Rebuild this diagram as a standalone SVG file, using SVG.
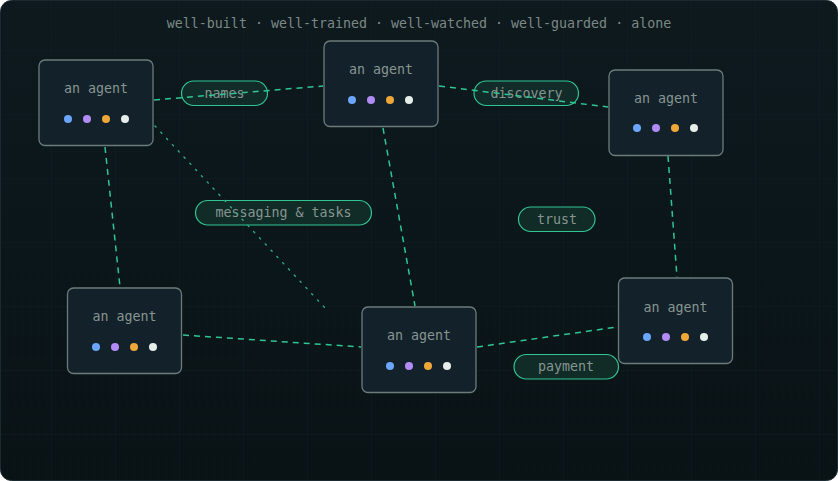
<svg xmlns="http://www.w3.org/2000/svg" width="838" height="481" viewBox="0 0 838 481">
<defs>
<linearGradient id="bg" x1="0" y1="0" x2="0" y2="1">
<stop offset="0" stop-color="#0d191d"/>
<stop offset="1" stop-color="#091316"/>
</linearGradient>
<pattern id="fine" width="8" height="8" patternUnits="userSpaceOnUse">
<path d="M8 0V8M0 8H8" fill="none" stroke="#16252a" stroke-width="0.5" opacity="0.35"/>
</pattern>
<pattern id="coarse" x="-12" y="-13" width="64" height="64" patternUnits="userSpaceOnUse">
<path d="M64 0V64M0 64H64" fill="none" stroke="#14252a" stroke-width="1" opacity="0.6"/>
</pattern>
</defs>
<style>
.node rect{fill:#13222a;stroke:#6c7c7a;stroke-width:1.3}
.t{font-family:"DejaVu Sans Mono","Liberation Mono",monospace;font-size:13.3px;fill:#879591;text-anchor:middle}
.ttl{font-family:"DejaVu Sans Mono","Liberation Mono",monospace;font-size:13.3px;fill:#7b8986;text-anchor:middle}
.c1{fill:#6aa6fb}.c2{fill:#b18cf6}.c3{fill:#f0a73a}.c4{fill:#e6eeea}
.edge{fill:none;stroke:#2fc594;stroke-width:1.5;stroke-dasharray:6 5}
.dot{fill:none;stroke:#2ba985;stroke-width:1.4;stroke-dasharray:1.5 7;stroke-linecap:round}
.pill rect{fill:#14342d;fill-opacity:0.7;stroke:#31c594;stroke-width:1.2}
</style>
<rect x="0.5" y="0.5" width="837" height="480" rx="11" fill="url(#bg)" stroke="#1b2a30"/>
<rect x="1" y="1" width="836" height="479" rx="11" fill="url(#fine)"/>
<rect x="1" y="1" width="836" height="479" rx="11" fill="url(#coarse)"/>
<text class="ttl" x="419" y="28">well-built · well-trained · well-watched · well-guarded · alone</text>
<g id="label-names" class="pill"><rect x="181.5" y="81" width="86" height="24.5" rx="12.25"/><text class="t" x="224.5" y="97.5">names</text></g>
<g id="label-discovery" class="pill"><rect x="474" y="81" width="104.5" height="24.5" rx="12.25"/><text class="t" x="526.5" y="97.5">discovery</text></g>
<g id="label-messaging" class="pill"><rect x="195.5" y="200.5" width="176" height="24.5" rx="12.25"/><text class="t" x="283.5" y="217">messaging &amp; tasks</text></g>
<g id="label-trust" class="pill"><rect x="518.5" y="207" width="76.5" height="24.5" rx="12.25"/><text class="t" x="557" y="223.5">trust</text></g>
<g id="label-payment" class="pill"><rect x="514" y="354.5" width="104.5" height="24.5" rx="12.25"/><text class="t" x="566" y="371">payment</text></g>
<g id="connectors">
<line class="edge" x1="154" y1="100" x2="323" y2="86"/>
<line class="edge" x1="439" y1="86" x2="608" y2="107"/>
<line class="edge" x1="105" y1="147" x2="120" y2="287"/>
<line class="edge" x1="383" y1="128" x2="415" y2="306"/>
<line class="edge" x1="668" y1="156" x2="677" y2="277"/>
<line class="edge" x1="183" y1="335" x2="361" y2="347"/>
<line class="edge" x1="477" y1="347" x2="617" y2="327"/>
<line class="dot" x1="155" y1="126" x2="326" y2="309"/>
</g>
<g id="agent-1" class="node"><rect x="39" y="60" width="114" height="85.5" rx="6"/><text class="t" x="96" y="93">an agent</text><circle class="c1" cx="68" cy="119" r="4"/><circle class="c2" cx="87" cy="119" r="4"/><circle class="c3" cx="106" cy="119" r="4"/><circle class="c4" cx="125" cy="119" r="4"/></g>
<g id="agent-2" class="node"><rect x="324" y="41" width="114" height="85.5" rx="6"/><text class="t" x="381" y="74">an agent</text><circle class="c1" cx="352" cy="100" r="4"/><circle class="c2" cx="371" cy="100" r="4"/><circle class="c3" cx="390" cy="100" r="4"/><circle class="c4" cx="409" cy="100" r="4"/></g>
<g id="agent-3" class="node"><rect x="609" y="70" width="114" height="85.5" rx="6"/><text class="t" x="666" y="103">an agent</text><circle class="c1" cx="637" cy="128" r="4"/><circle class="c2" cx="656" cy="128" r="4"/><circle class="c3" cx="675" cy="128" r="4"/><circle class="c4" cx="694" cy="128" r="4"/></g>
<g id="agent-4" class="node"><rect x="67.5" y="288" width="114" height="85.5" rx="6"/><text class="t" x="124.5" y="321">an agent</text><circle class="c1" cx="96" cy="347" r="4"/><circle class="c2" cx="115" cy="347" r="4"/><circle class="c3" cx="134" cy="347" r="4"/><circle class="c4" cx="153" cy="347" r="4"/></g>
<g id="agent-5" class="node"><rect x="362" y="307" width="114" height="85.5" rx="6"/><text class="t" x="419" y="340">an agent</text><circle class="c1" cx="390" cy="366" r="4"/><circle class="c2" cx="409" cy="366" r="4"/><circle class="c3" cx="428" cy="366" r="4"/><circle class="c4" cx="447" cy="366" r="4"/></g>
<g id="agent-6" class="node"><rect x="618.5" y="278" width="114" height="85.5" rx="6"/><text class="t" x="675.5" y="312">an agent</text><circle class="c1" cx="647" cy="337" r="4"/><circle class="c2" cx="666" cy="337" r="4"/><circle class="c3" cx="685" cy="337" r="4"/><circle class="c4" cx="704" cy="337" r="4"/></g>
</svg>
